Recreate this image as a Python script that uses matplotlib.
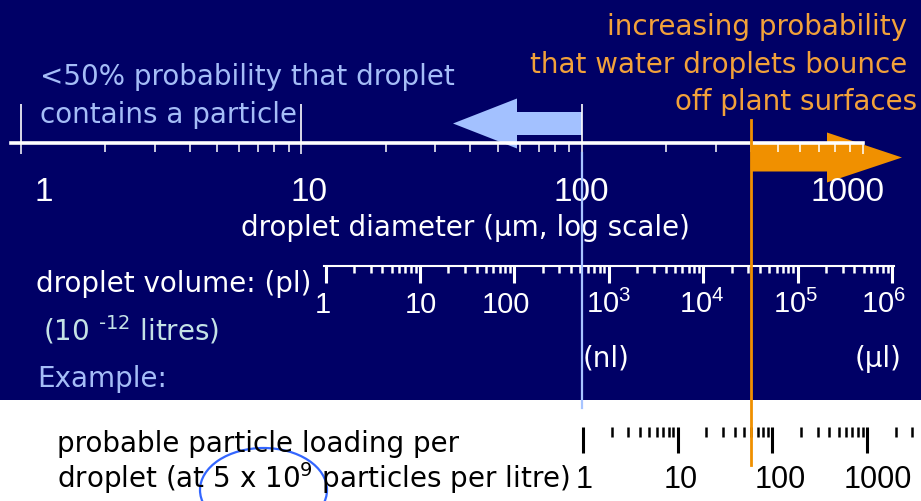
import matplotlib.pyplot as plt
import matplotlib.transforms as mtransforms
from matplotlib.patches import Rectangle, FancyArrow, Ellipse
from matplotlib.lines import Line2D
from matplotlib.ticker import LogLocator, NullFormatter

plt.rcParams['font.family'] = ['DejaVu Sans']
plt.rcParams['mathtext.fontset'] = 'custom'
plt.rcParams['mathtext.rm'] = 'Liberation Sans'
plt.rcParams['mathtext.it'] = 'Liberation Sans:italic'
plt.rcParams['mathtext.bf'] = 'Liberation Sans:bold'

# scale values
diam_ticks = [1, 10, 100, 1000]
diam_labels = ['1', '10', '100', '1000']
diam_marked = [1, 10, 100]          # long white markers above the axis
small_limit = 100                   # µm: below this <50% contain a particle
bounce_limit = 400                  # µm: above this droplets bounce off

vol_ticks = [1, 10, 100, 1e3, 1e4, 1e5, 1e6]
vol_labels = ['1', '10', '100', '10$^3$', '10$^4$', '10$^5$', '10$^6$']
unit_ticks = [1e3, 1e6]
unit_labels = ['(nl)', '(µl)']

part_ticks = [1, 10, 100, 1000]
part_labels = ['1', '10', '100', '1000']

NAVY = '#000066'
LIGHTBLUE = '#a5bdf7'
ORANGE = '#f2a13a'
DIGITS = ['Liberation Sans', 'DejaVu Sans']

W, H = 921, 501
fig = plt.figure(figsize=(W / 100, H / 100), dpi=100)
fig.patch.set_facecolor('white')

# background in pixel units
bg = fig.add_axes([0, 0, 1, 1])
bg.set_xlim(0, W)
bg.set_ylim(H, 0)
bg.axis('off')
bg.add_patch(Rectangle((0, 0), W, 400, color=NAVY, lw=0))


def log_axis(x_one, decade, x0, x1, y, top=None, color='white'):
    # x_one: pixel of value 1, decade: pixels per decade
    lo = 10 ** ((x0 - x_one) / decade)
    hi = 10 ** ((x1 - x_one) / decade)
    h = 1 if top is None else y - top
    ax = fig.add_axes([x0 / W, 1 - y / H, (x1 - x0) / W, h / H])
    ax.set_xscale('log')
    ax.set_xlim(lo, hi)
    ax.patch.set_visible(False)
    ax.yaxis.set_visible(False)
    for s in ['left', 'right', 'top']:
        ax.spines[s].set_visible(False)
    ax.spines['bottom'].set_color(color)
    ax.xaxis.set_minor_locator(LogLocator(base=10, subs=range(2, 10)))
    ax.xaxis.set_minor_formatter(NullFormatter())
    ax.tick_params(axis='x', which='both', labelbottom=False, color=color,
                   direction='out')
    return ax


def px_shift(dx):
    return mtransforms.ScaledTranslation(dx / 100, 0, fig.dpi_scale_trans)


# droplet diameter axis
ax_d = log_axis(21, 280.6, 11, 862.5, 143, top=104)
ax_d.spines['bottom'].set_linewidth(2.6)
ax_d.set_xticks(diam_ticks)
ax_d.tick_params(which='major', length=8, width=1.1)
ax_d.tick_params(which='minor', length=6.5, width=1.1)
ax_d.vlines(diam_marked, 0, 1, transform=ax_d.get_xaxis_transform(),
            color='white', lw=1.2)
blend_d = mtransforms.blended_transform_factory(ax_d.transData, bg.transData)
for v, s, dx in zip(diam_ticks, diam_labels, [23, 8, -1, -15]):
    bg.text(v, 201, s, transform=blend_d + px_shift(dx), color='white',
            fontsize=24, family=DIGITS, ha='center', va='baseline')

# droplet volume axis
ax_v = log_axis(325.6, 94.4, 323.5, 894, 266)
ax_v.spines['bottom'].set_linewidth(1.5)
ax_v.set_xticks(vol_ticks)
ax_v.tick_params(which='major', length=12.5, width=2.2)
ax_v.tick_params(which='minor', length=5, width=1.8)
blend_v = mtransforms.blended_transform_factory(ax_v.transData, bg.transData)
for v, s, dx in zip(vol_ticks, vol_labels, [-3, 1, -8, 0, -1, -2, -8]):
    bg.text(v, 313, s, transform=blend_v + px_shift(dx), color='white',
            fontsize=21, family=DIGITS, ha='center', va='baseline')
for v, s, dx in zip(unit_ticks, unit_labels, [-3, -14]):
    bg.text(v, 367, s, transform=blend_v + px_shift(dx), color='white',
            fontsize=20, ha='center', va='baseline')

# particle loading axis (ticks only)
ax_p = log_axis(583, 94.7, 580, 921, 427, color='black')
ax_p.spines['bottom'].set_visible(False)
ax_p.set_xticks(part_ticks)
ax_p.tick_params(which='major', length=19, width=2.2)
ax_p.tick_params(which='minor', length=7.5, width=1.8)
blend_p = mtransforms.blended_transform_factory(ax_p.transData, bg.transData)
for v, s, dx in zip(part_ticks, part_labels, [1, 3, 8, 11]):
    bg.text(v, 488, s, transform=blend_p + px_shift(dx), color='black',
            fontsize=22, family=DIGITS, ha='center', va='baseline')

# arrows
x_small = ax_d.transData.transform((small_limit, 1))[0]
x_bounce = ax_d.transData.transform((bounce_limit, 1))[0]
bg.add_patch(FancyArrow(x_small, 123.5, 453 - x_small, 0, width=23,
                        head_width=50, head_length=64,
                        length_includes_head=True, color='#a3c1ff', lw=0))
bg.add_patch(FancyArrow(x_bounce, 157.5, 902 - x_bounce, 0, width=28,
                        head_width=50, head_length=75,
                        length_includes_head=True, color='#f09000', lw=0))

# limit lines drawn on top of the scales
fig.add_artist(Line2D([small_limit, small_limit], [153, 408], transform=blend_d,
                      color='#a8c4ff', lw=1.6))
fig.add_artist(Line2D([bounce_limit, bounce_limit], [120, 465],
                      transform=blend_d, color='#f09000', lw=2))

# texts
bg.text(40, 85, '<50% probability that droplet', color=LIGHTBLUE,
        fontsize=20, va='baseline')
bg.text(40, 123, 'contains a particle', color=LIGHTBLUE, fontsize=20,
        va='baseline')
orange_lines = ['increasing probability', 'that water droplets bounce',
                'off plant surfaces']
for s, y, x in zip(orange_lines, [35, 73, 110], [907, 907, 917]):
    bg.text(x, y, s, color=ORANGE, fontsize=20, ha='right', va='baseline')
bg.text(465, 236, 'droplet diameter (µm, log scale)', color='white',
        fontsize=20, ha='center', va='baseline')
bg.text(36, 292, 'droplet volume: (pl)', color='white', fontsize=20,
        va='baseline')
bg.text(43, 340, '(10 $^{\u201012}$ litres)', color='#c4e2e6', fontsize=20,
        va='baseline', math_fontfamily='dejavusans')
bg.text(37, 387, 'Example:', color=LIGHTBLUE, fontsize=20, va='baseline')
bg.text(57, 452, 'probable particle loading per', color='black', fontsize=20,
        va='baseline')
bg.text(57, 488, 'droplet (at 5 x 10$^9$ particles per litre)', color='black',
        fontsize=20, va='baseline', math_fontfamily='dejavusans')
bg.add_patch(Ellipse((263.5, 490), 127, 84, fill=False, edgecolor='#3366ff',
                     lw=1.6))

fig.savefig('out.png', dpi=100, facecolor=fig.get_facecolor())
